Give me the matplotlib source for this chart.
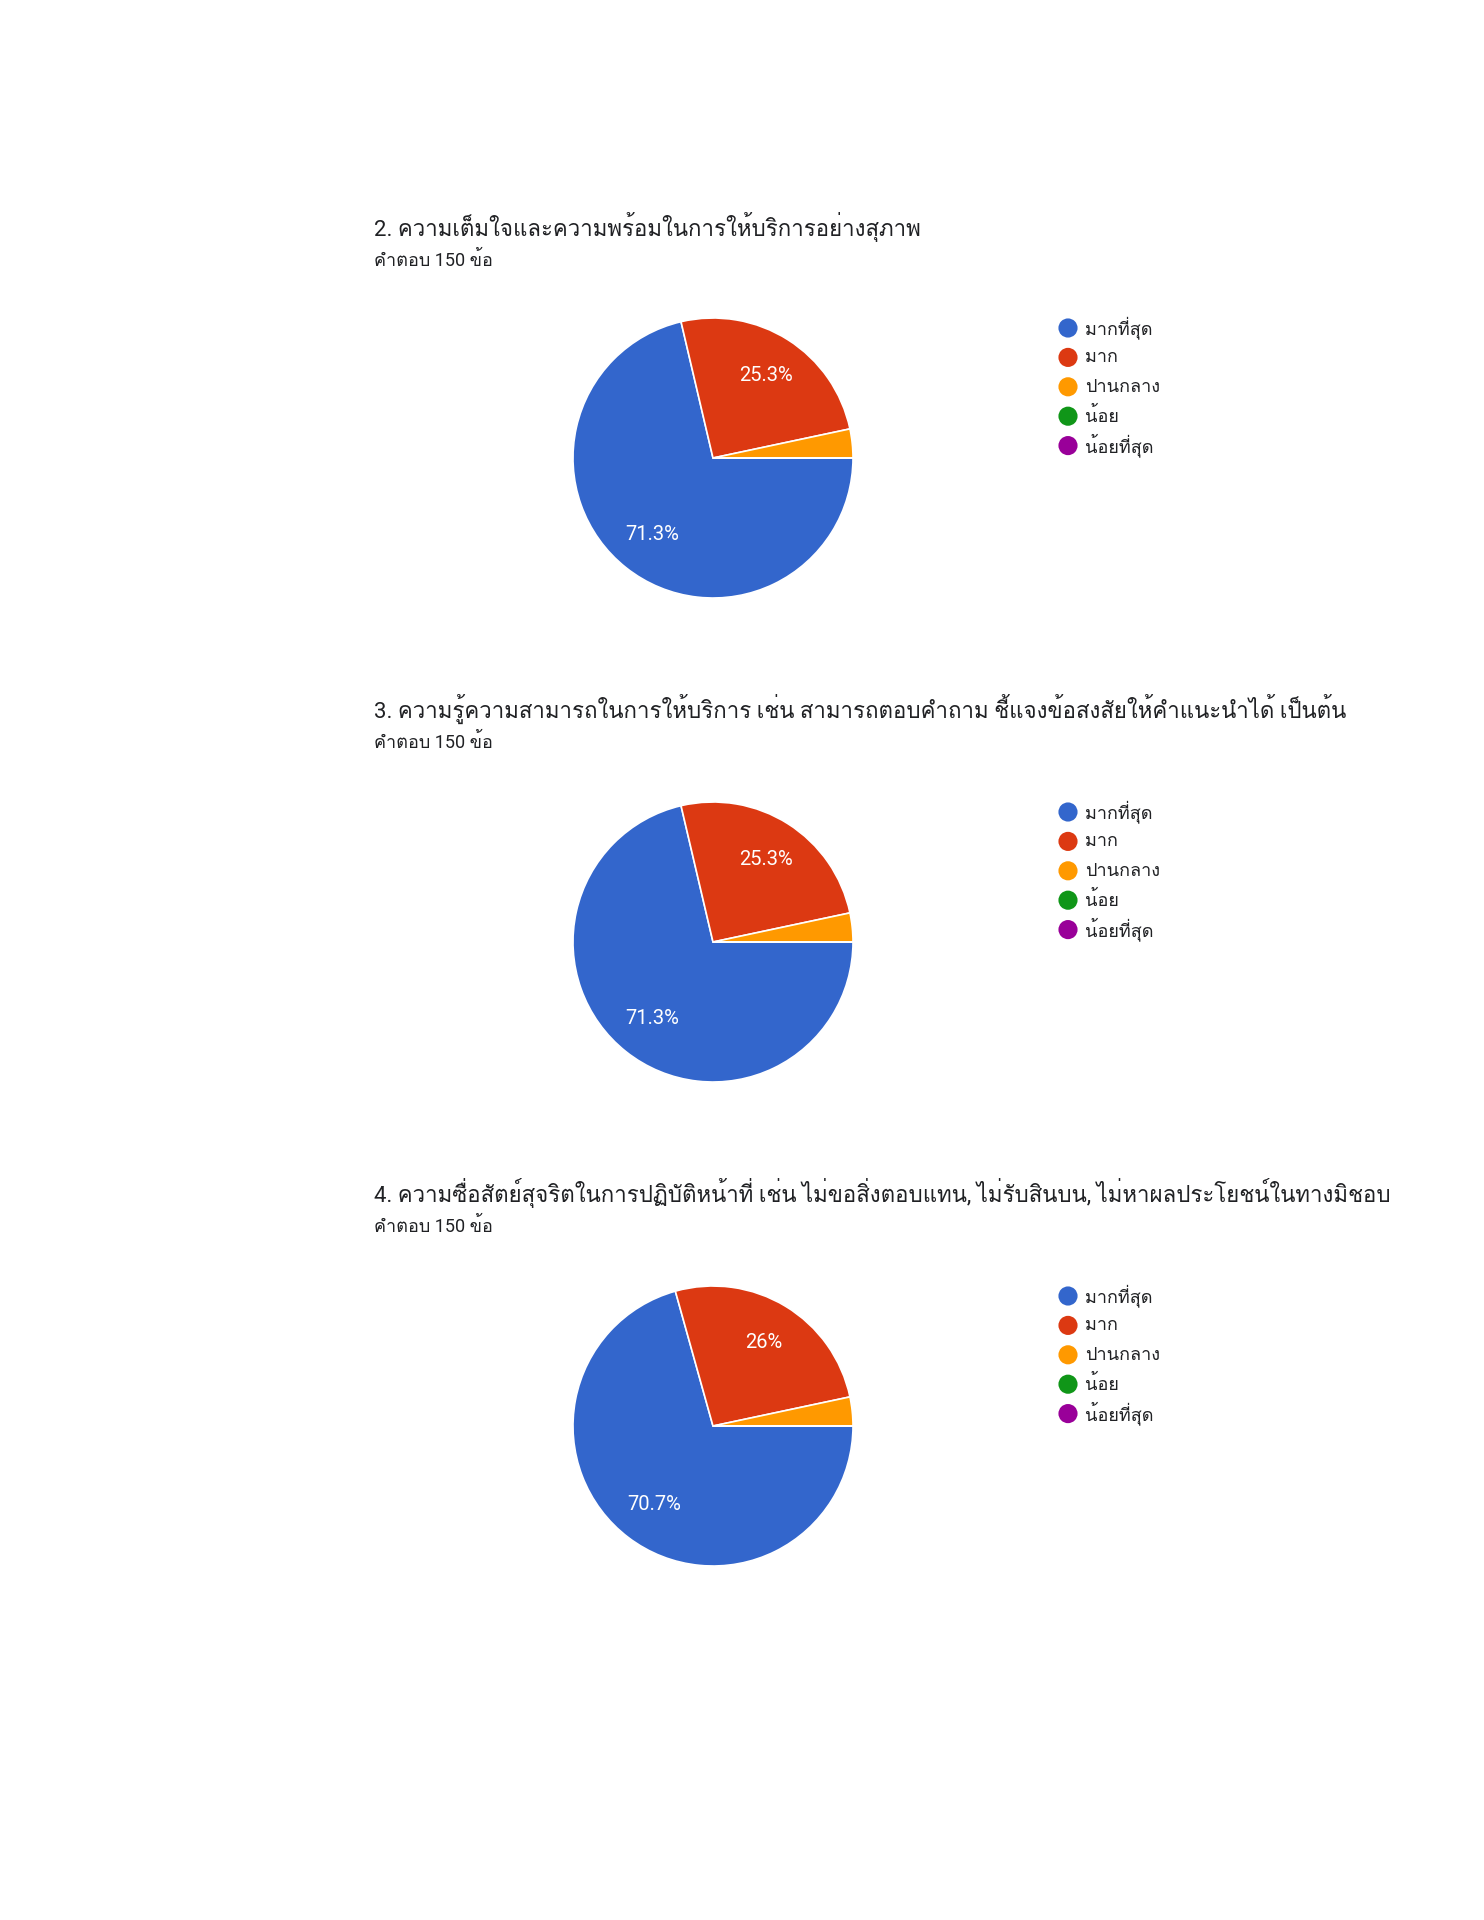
import matplotlib
matplotlib.use("Agg")
import matplotlib.pyplot as plt

# Roboto for digits / latin, Loma for the Thai glyphs
plt.rcParams['font.family'] = ['Roboto', 'Loma', 'Noto Sans Thai Looped', 'DejaVu Sans']

titles = [
    "2. ความเต็มใจและความพร้อมในการให้บริการอย่างสุภาพ",
    "3. ความรู้ความสามารถในการให้บริการ เช่น สามารถตอบคำถาม ชี้แจงข้อสงสัยให้คำแนะนำได้ เป็นต้น",
    "4. ความซื่อสัตย์สุจริตในการปฏิบัติหน้าที่ เช่น ไม่ขอสิ่งตอบแทน, ไม่รับสินบน, ไม่หาผลประโยชน์ในทางมิชอบ",
]
subtitle = "คำตอบ 150 ข้อ"
categories = ["มากที่สุด", "มาก", "ปานกลาง", "น้อย", "น้อยที่สุด"]
counts_q2 = [107, 38, 5, 0, 0]
counts_q3 = [107, 38, 5, 0, 0]
counts_q4 = [106, 39, 5, 0, 0]
colors = ["#3366CC", "#DC3912", "#FF9900", "#109618", "#990099"]

W, H = 1484, 1920
fig = plt.figure(figsize=(W / 100, H / 100), dpi=100)


def pct_label(p):
    # google forms hides labels of tiny slices
    if p < 5:
        return ""
    return f"{p:.1f}%".replace(".0%", "%")


tops = [227, 709, 1193]      # title y (px)
centres = [458, 942, 1426]   # pie centre y (px)
cx, R = 713, 140
half = 1.25 * R
row = 29.4                   # legend row pitch (px)

for title, counts, ty, cy in zip(titles, [counts_q2, counts_q3, counts_q4], tops, centres):
    fig.text(374 / W, 1 - ty / H, title, fontsize=16, color="#202124", va="center", ha="left")
    fig.text(374 / W, 1 - (ty + 33) / H, subtitle, fontsize=13, color="#202124", va="center", ha="left")

    ax = fig.add_axes([(cx - half) / W, 1 - (cy + half) / H, 2 * half / W, 2 * half / H])
    ax.pie(counts, colors=colors, startangle=0, counterclock=False,
           autopct=pct_label, pctdistance=0.7,
           wedgeprops=dict(edgecolor="white", linewidth=1.2),
           textprops=dict(color="white", fontsize=14.5))
    ax.set_xlim(-1.25, 1.25)
    ax.set_ylim(-1.25, 1.25)
    ax.set_aspect("equal")

    # legend as its own small axes so rows are evenly spaced
    ly = cy - 130 - row / 2
    lax = fig.add_axes([1058 / W, 1 - (ly + 5 * row) / H, 200 / W, 5 * row / H])
    idx = list(range(len(categories)))
    lax.scatter([0.05] * len(idx), idx, s=190, c=colors, linewidths=0)
    for i, name in zip(idx, categories):
        lax.text(0.135, i, name, fontsize=13, color="#202124", va="center", ha="left")
    lax.set_xlim(0, 1)
    lax.set_ylim(len(idx) - 0.5, -0.5)
    lax.axis("off")

fig.savefig("out.png", dpi=100, facecolor="white")
